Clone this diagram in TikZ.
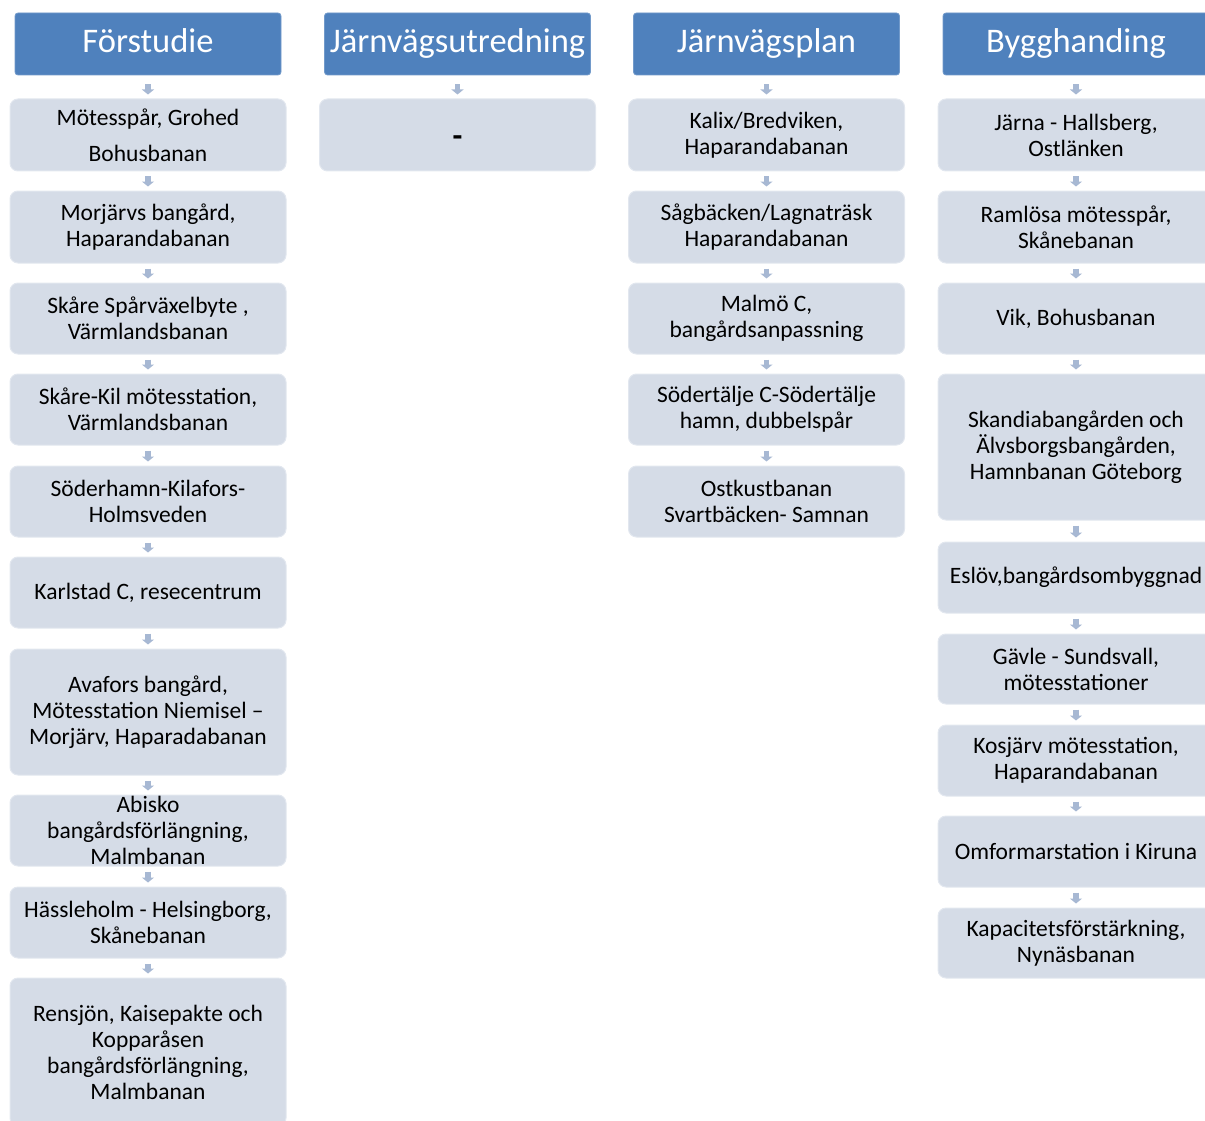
\documentclass[tikz,border=0pt]{standalone}
\usepackage{fontspec}
\setmainfont{Carlito}
\usetikzlibrary{arrows.meta}
\definecolor{hdrc}{HTML}{4F81BD}
\definecolor{boxc}{HTML}{D5DCE7}
\definecolor{boxe}{HTML}{E2E7EF}
\definecolor{arrc}{HTML}{A7B8D3}
\tikzset{
  hdr/.style={fill=hdrc, draw=hdrc!80!white, line width=0.8pt, rounded corners=3pt,
    minimum width=266pt, minimum height=62pt, inner sep=0pt, text=white,
    text height=24pt, text depth=7pt,
    font=\fontsize{34.5}{38}\selectfont},
  itembox/.style={fill=boxc, draw=boxe, line width=1pt, rounded corners=8pt,
    minimum width=276pt, inner sep=0pt, align=center,
    font=\fontsize{23.5}{26}\selectfont},
  conn/.style={draw=arrc, line width=5.5pt,
    -{Triangle[width=12pt,length=5pt]}, shorten <=5pt, shorten >=4pt},
  hconn/.style={conn, shorten <=9pt, shorten >=4pt}
}
\begin{document}
\begin{tikzpicture}[x=1pt,y=-1pt]
\useasboundingbox (0,0) rectangle (1205,1121);
\clip (0,0) rectangle (1205,1121);
% headers
\node[hdr] (h1) at (148,44) {Förstudie};
\node[hdr] (h2) at (457.5,44) {Järnvägsutredning};
\node[hdr] (h3) at (766.5,44) {Järnvägsplan};
\node[hdr] (h4) at (1076,44) {Bygghanding};
% column 1
\node[itembox, minimum height=72pt] (a1) at (148,135) {Mötesspår, Grohed\\[10pt]Bohusbanan};
\node[itembox, minimum height=72pt] (a2) at (148,227) {Morjärvs bangård,\\Haparandabanan};
\node[itembox, minimum height=71pt] (a3) at (148,318.5) {Skåre Spårväxelbyte ,\\Värmlandsbanan};
\node[itembox, minimum height=71pt] (a4) at (148,409.5) {Skåre-Kil mötesstation,\\Värmlandsbanan};
\node[itembox, minimum height=71pt] (a5) at (148,501.5) {Söderhamn-Kilafors-\\Holmsveden};
\node[itembox, minimum height=71pt] (a6) at (148,592.5) {Karlstad C, resecentrum};
\node[itembox, minimum height=126pt] (a7) at (148,712) {Avafors bangård,\\Mötesstation Niemisel –\\Morjärv, Haparadabanan};
\node[itembox, minimum height=71pt] (a8) at (148,830.5) {Abisko\\bangårdsförlängning,\\Malmbanan};
\node[itembox, minimum height=71pt] (a9) at (148,922.5) {Hässleholm - Helsingborg,\\Skånebanan};
\node[itembox, minimum height=148pt] (a10) at (148,1052) {Rensjön, Kaisepakte och\\Kopparåsen\\bangårdsförlängning,\\Malmbanan};
% column 2
\node[itembox, minimum height=72pt, text height=24pt, text depth=0pt,
  font=\fontsize{32}{34}\selectfont\bfseries] (b1) at (457.5,135) {-};
% column 3
\node[itembox, minimum height=72pt] (c1) at (766.5,135) {Kalix/Bredviken,\\Haparandabanan};
\node[itembox, minimum height=72pt] (c2) at (766.5,227) {Sågbäcken/Lagnaträsk\\Haparandabanan};
\node[itembox, minimum height=71pt] (c3) at (766.5,318.5) {Malmö C,\\bangårdsanpassning};
\node[itembox, minimum height=71pt] (c4) at (766.5,409.5) {Södertälje C-Södertälje\\hamn, dubbelspår};
\node[itembox, minimum height=71pt] (c5) at (766.5,501.5) {Ostkustbanan\\Svartbäcken- Samnan};
% column 4
\node[itembox, minimum height=72pt] (d1) at (1076,135) {Järna - Hallsberg,\\Ostlänken};
\node[itembox, minimum height=72pt] (d2) at (1076,227) {Ramlösa mötesspår,\\Skånebanan};
\node[itembox, minimum height=71pt] (d3) at (1076,318.5) {Vik, Bohusbanan};
\node[itembox, minimum height=146pt] (d4) at (1076,447) {Skandiabangården och\\Älvsborgsbangården,\\Hamnbanan Göteborg};
\node[itembox, minimum height=71pt] (d5) at (1076,577.5) {Eslöv,bangårdsombyggnad};
\node[itembox, minimum height=70pt] (d6) at (1076,669) {Gävle - Sundsvall,\\mötesstationer};
\node[itembox, minimum height=71pt] (d7) at (1076,760.5) {Kosjärv mötesstation,\\Haparandabanan};
\node[itembox, minimum height=71pt] (d8) at (1076,851.5) {Omformarstation i Kiruna};
\node[itembox, minimum height=70pt] (d9) at (1076,943) {Kapacitetsförstärkning,\\Nynäsbanan};
% connectors
\draw[hconn] (h1) -- (a1);
\draw[hconn] (h2) -- (b1);
\draw[hconn] (h3) -- (c1);
\draw[hconn] (h4) -- (d1);
\foreach \p/\q in {a1/a2,a2/a3,a3/a4,a4/a5,a5/a6,a6/a7,a7/a8,a8/a9,a9/a10,
  c1/c2,c2/c3,c3/c4,c4/c5,
  d1/d2,d2/d3,d3/d4,d4/d5,d5/d6,d6/d7,d7/d8,d8/d9}
  \draw[conn] (\p) -- (\q);
\end{tikzpicture}
\end{document}
